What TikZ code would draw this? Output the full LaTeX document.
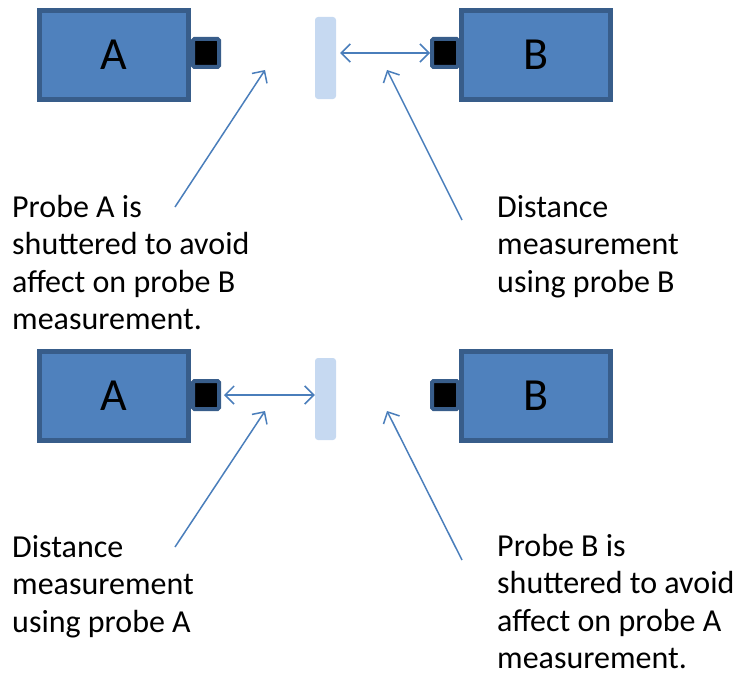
\documentclass[tikz,border=0pt]{standalone}
\usepackage{fontspec}
\setmainfont{Carlito}
\usetikzlibrary{arrows.meta}
\definecolor{boxfill}{HTML}{4F81BD}
\definecolor{boxline}{HTML}{385D8A}
\definecolor{barfill}{HTML}{C6D9F1}
\definecolor{arrowc}{HTML}{4A7EBB}
\newcommand{\topstrut}{\rule{0pt}{26pt}}
\begin{document}
\begin{tikzpicture}[x=1pt,y=-1pt,
  probe/.style={draw=boxline,fill=boxfill,line width=5pt,minimum width=149pt,minimum height=89pt,inner sep=0pt,font=\fontsize{46}{50}\selectfont},
  port/.style={draw=boxline,fill=black,line width=4pt,minimum width=26pt,minimum height=28pt,inner sep=0pt,rounded corners=1.5pt},
  shutter/.style={fill=barfill,minimum width=21pt,minimum height=82pt,inner sep=0pt,rounded corners=3pt},
  lbl/.style={align=left,anchor=north west,inner sep=0pt,font=\fontsize{32}{37.5}\selectfont},
  arr/.style={draw=arrowc,line width=1.5pt,-{Straight Barb[length=9pt,width=18pt,line width=1.5pt]}},
  darr/.style={draw=arrowc,line width=1.5pt,{Straight Barb[length=9pt,width=18pt,line width=1.5pt]}-{Straight Barb[length=9pt,width=18pt,line width=1.5pt]}}]
\useasboundingbox (0,0) rectangle (736,677);
% top row
\node[port] (pa1) at (206,53) {};
\node[probe] (A1) at (114,55) {A};
\node[port] (pb1) at (445,53) {};
\node[probe] (B1) at (536,55) {B};
\node[shutter] (s1) at (325.5,58) {};
\draw[darr] (s1.east |- pb1.west) ++(4,0) coordinate (d1) (d1) -- (pb1.west);
% bottom row
\node[port] (pa2) at (206,395) {};
\node[probe] (A2) at (114,396) {A};
\node[port] (pb2) at (445,395) {};
\node[probe] (B2) at (536,396) {B};
\node[shutter] (s2) at (325.5,399) {};
\draw[darr] (pa2.east) ++(3,0) coordinate (d2) (d2) -- (s2.west |- pa2.east);
% labels
\node[lbl] (t1) at (12,191) {\topstrut Probe A is\\shuttered to avoid\\affect on probe B\\measurement.};
\node[lbl] (t2) at (497,191) {\topstrut Distance\\measurement\\using probe B};
\node[lbl] (t3) at (12,531) {\topstrut Distance\\measurement\\using probe A};
\node[lbl] (t4) at (497,530) {\topstrut Probe B is\\shuttered to avoid\\affect on probe A\\measurement.};
% pointer arrows
\coordinate (p1s) at (175,207); \coordinate (p1e) at (265,70);
\coordinate (p2s) at (462,220); \coordinate (p2e) at (387,70);
\coordinate (p3s) at (175,547); \coordinate (p3e) at (265,411);
\coordinate (p4s) at (462,560); \coordinate (p4e) at (387,411);
\draw[arr] (p1s) -- (p1e);
\draw[arr] (p2s) -- (p2e);
\draw[arr] (p3s) -- (p3e);
\draw[arr] (p4s) -- (p4e);
\end{tikzpicture}
\end{document}
